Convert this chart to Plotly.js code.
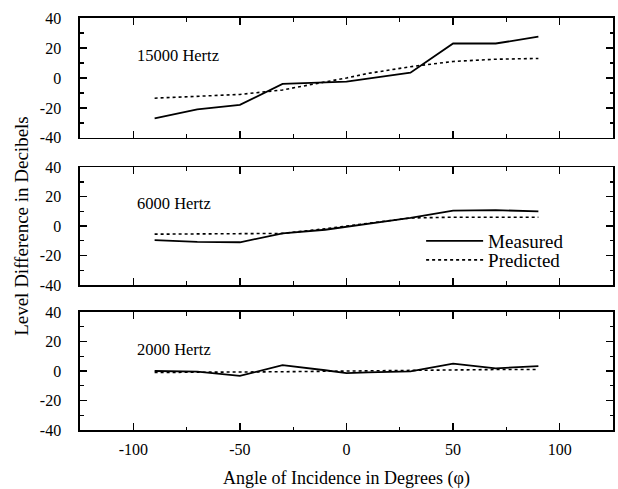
<!DOCTYPE html>
<html>
<head>
<meta charset="utf-8">
<script src="https://cdn.plot.ly/plotly-3.0.1.min.js"></script>
<style>html,body{margin:0;padding:0;background:#fff;}#chart{width:618px;height:489px;}</style>
</head>
<body>
<div id="chart"></div>
<script>
// Angles of incidence (degrees)
const angles = [-90, -70, -50, -30, -10, 0, 10, 30, 50, 70, 90];

// 15000 Hz
const meas15000 = [-27, -21, -18, -4, -3, -2.5, -0.5, 3.5, 23, 23, 27.5];
const pred15000 = [-13.5, -12.5, -11, -8, -3, 0, 3, 7.5, 11, 12.5, 13];

// 6000 Hz
const meas6000 = [-9.5, -10.7, -11, -5, -2.5, -0.5, 1.5, 5.5, 10.5, 10.8, 10];
const pred6000 = [-5.5, -5.5, -5.5, -5, -1.8, 0, 2, 5.5, 6, 6, 6];

// 2000 Hz
const meas2000 = [0, -0.4, -3.3, 4, 0.5, -1.5, -1, -0.2, 5, 1.8, 3.3];
const pred2000 = [-1, -1, -0.8, -0.5, -0.2, 0, 0.2, 0.5, 0.8, 1, 1];

const panelLabels = ["15000 Hertz", "6000 Hertz", "2000 Hertz"];
const seriesNames = ["Measured", "Predicted"];
const yTicks = [-40, -20, 0, 20, 40];
const yTickText = ["-40", "-20", "0", "20", "40"];
const xTicks = [-100, -50, 0, 50, 100];
const xTickText = ["-100", "-50", "0", "50", "100"];

const FONT = '"Liberation Serif", "Times New Roman", serif';
const measLine = {color: "#000", width: 1.8, dash: "solid"};
const predLine = {color: "#000", width: 1.6, dash: "dot"};

const panels = [[meas15000, pred15000], [meas6000, pred6000], [meas2000, pred2000]];
const traces = [];
panels.forEach((p, i) => {
  const xa = i === 0 ? "x" : "x" + (i + 1);
  const ya = i === 0 ? "y" : "y" + (i + 1);
  traces.push({x: angles, y: p[0], type: "scatter", mode: "lines", name: seriesNames[0],
    line: measLine, xaxis: xa, yaxis: ya, showlegend: i === 1, legend: "legend"});
  traces.push({x: angles, y: p[1], type: "scatter", mode: "lines", name: seriesNames[1],
    line: predLine, xaxis: xa, yaxis: ya, showlegend: i === 1, legend: "legend2"});
});

function xAxis(anchor, showLabels) {
  return {
    anchor: anchor, range: [-125, 125], tickvals: xTicks, ticktext: xTickText,
    showticklabels: showLabels, ticks: "inside", ticklen: 7, tickwidth: 1.5, tickcolor: "#000",
    minor: {dtick: 25, tick0: 0, ticks: "inside", ticklen: 3.5, tickwidth: 1.3, tickcolor: "#000"},
    showline: true, linecolor: "#000", linewidth: 1.6, mirror: "ticks",
    showgrid: false, zeroline: false, fixedrange: true, ticklabelstandoff: 4,
    tickfont: {family: FONT, size: 16, color: "#000"}
  };
}
function yAxis(anchor, domain) {
  return {
    anchor: anchor, domain: domain, range: [-40, 40], tickvals: yTicks, ticktext: yTickText,
    ticks: "inside", ticklen: 7, tickwidth: 1.5, tickcolor: "#000",
    minor: {dtick: 10, tick0: 0, ticks: "inside", ticklen: 3.5, tickwidth: 1.3, tickcolor: "#000"},
    showline: true, linecolor: "#000", linewidth: 1.6, mirror: "ticks",
    showgrid: false, zeroline: false, fixedrange: true, ticklabelstandoff: 14,
    tickfont: {family: FONT, size: 16, color: "#000"}
  };
}

const d1 = [0.709, 1.0], d2 = [0.352, 0.638], d3 = [0.0, 0.2864];

const legendBase = {
  xanchor: "left", yanchor: "middle", xref: "paper", yref: "paper",
  bgcolor: "rgba(0,0,0,0)", borderwidth: 0,
  font: {family: FONT, size: 19, color: "#000"},
  itemwidth: 57, tracegroupgap: 0, itemclick: false
};

const layout = {
  width: 618, height: 489,
  margin: {l: 80, r: 5, t: 18, b: 59},
  paper_bgcolor: "#fff", plot_bgcolor: "#fff",
  font: {family: FONT, color: "#000"},
  xaxis: xAxis("y", false),
  xaxis2: xAxis("y2", false),
  xaxis3: Object.assign(xAxis("y3", true), {
    title: {text: "Angle of Incidence in Degrees (φ)", font: {family: FONT, size: 18, color: "#000"}, standoff: 15}
  }),
  yaxis: yAxis("x", d1),
  yaxis2: Object.assign(yAxis("x2", d2), {
    title: {text: "Level Difference in Decibels", font: {family: FONT, size: 19, color: "#000"}, standoff: 6}
  }),
  yaxis3: yAxis("x3", d3),
  showlegend: true,
  legend: Object.assign({}, legendBase, {x: 0.64, y: (430 - 241) / 412}),
  legend2: Object.assign({}, legendBase, {x: 0.64, y: (430 - 260) / 412}),
  annotations: panelLabels.map((t, i) => ({
    text: t, xref: (i === 0 ? "x" : "x" + (i + 1)) + " domain", yref: (i === 0 ? "y" : "y" + (i + 1)) + " domain",
    x: 0.103, y: [0.69, 0.695, 0.68][i], xanchor: "left", yanchor: "middle", showarrow: false,
    font: {family: FONT, size: 16.5, color: "#000"}
  }))
};

Plotly.newPlot("chart", traces, layout, {displayModeBar: false, staticPlot: true});
</script>
</body>
</html>
